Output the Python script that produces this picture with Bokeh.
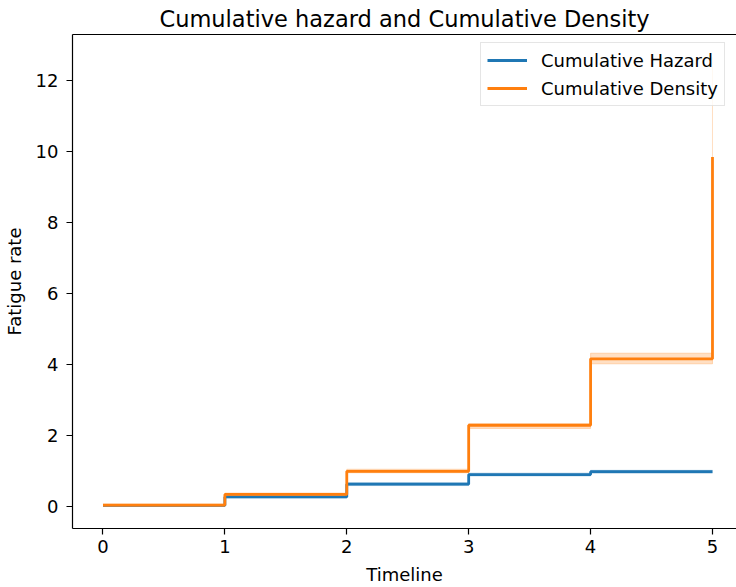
from bokeh.plotting import figure
from bokeh.models import Range1d, LinearAxis, Legend, LegendItem, FixedTicker
from bokeh.embed import file_html
from bokeh.resources import INLINE

# ---- data ----
timeline = [0, 1, 2, 3, 4, 5]
hazard = [0.03, 0.27, 0.63, 0.90, 0.98, 0.98]
hazard_lower = [0.01, 0.24, 0.59, 0.86, 0.94, 0.94]
hazard_upper = [0.05, 0.30, 0.67, 0.94, 1.02, 1.02]
density = [0.04, 0.34, 0.99, 2.29, 4.16, 9.85]
density_lower = [0.01, 0.31, 0.95, 2.20, 4.02, 8.00]
density_upper = [0.07, 0.38, 1.05, 2.33, 4.32, 12.66]
x_ticks = [0, 1, 2, 3, 4, 5]
y_ticks = [0, 2, 4, 6, 8, 10, 12]

BLUE = "#1f77b4"
ORANGE = "#ff7f0e"
FONT = "DejaVu Sans"

p = figure(width=736, height=587, output_backend="svg", toolbar_location=None,
           x_range=Range1d(-0.25, 5.197), y_range=Range1d(-0.62, 13.3),
           min_border_left=72, min_border_right=0, min_border_top=34, min_border_bottom=59,
           title="Cumulative hazard and Cumulative Density")

p.outline_line_color = None
p.grid.visible = False
p.background_fill_color = "white"
p.border_fill_color = "white"

# title
p.title.text_font = FONT
p.title.text_font_size = "22.5px"
p.title.text_font_style = "normal"
p.title.text_color = "#000000"
p.title.align = "center"
p.title.standoff = 6

xax = p.below[0]
yax = p.left[0]
for ax in (xax, yax):
    ax.axis_line_color = "#000000"
    ax.axis_line_width = 1.2
    ax.major_tick_line_color = "#000000"
    ax.major_tick_line_width = 1.2
    ax.major_tick_out = 6
    ax.major_tick_in = 0
    ax.minor_tick_line_color = None
    ax.major_label_text_font = FONT
    ax.major_label_text_font_size = "18px"
    ax.major_label_text_color = "#000000"
    ax.axis_label_text_font = FONT
    ax.axis_label_text_font_size = "18px"
    ax.axis_label_text_font_style = "normal"
    ax.axis_label_text_color = "#000000"

xax.major_label_standoff = 5
xax.axis_label_standoff = 8
yax.major_label_standoff = 8
yax.axis_label_standoff = 8

xax.ticker = FixedTicker(ticks=x_ticks)
yax.ticker = FixedTicker(ticks=y_ticks)
xax.axis_label = "Timeline"
yax.axis_label = "Fatigue rate"

# top spine via an empty axis
top_axis = LinearAxis(major_tick_line_color=None, minor_tick_line_color=None,
                      major_label_text_font_size="0px", major_label_standoff=0,
                      major_tick_out=0, major_tick_in=0,
                      axis_line_color="#000000", axis_line_width=1.2,
                      ticker=FixedTicker(ticks=[]))
p.add_layout(top_axis, "above")

# hazard band + line
p.varea_step(x=timeline, y1=hazard_lower, y2=hazard_upper, step_mode="after",
             fill_color=BLUE, fill_alpha=0.25)
p.step(timeline, hazard_lower, mode="after", line_color=BLUE, line_alpha=0.25, line_width=1)
p.step(timeline, hazard_upper, mode="after", line_color=BLUE, line_alpha=0.25, line_width=1)
r_h = p.step(timeline, hazard, mode="after", line_color=BLUE, line_width=2.8)

# density band + line
p.varea_step(x=timeline, y1=density_lower, y2=density_upper, step_mode="after",
             fill_color=ORANGE, fill_alpha=0.25)
p.step(timeline, density_lower, mode="after", line_color=ORANGE, line_alpha=0.25, line_width=1)
p.step(timeline, density_upper, mode="after", line_color=ORANGE, line_alpha=0.25, line_width=1)
r_d = p.step(timeline, density, mode="after", line_color=ORANGE, line_width=2.8)

legend = Legend(items=[LegendItem(label="Cumulative Hazard", renderers=[r_h]),
                       LegendItem(label="Cumulative Density", renderers=[r_d])],
                location=(408, 422))
legend.label_text_font = FONT
legend.label_text_font_size = "18px"
legend.label_text_color = "#000000"
legend.glyph_width = 40
legend.glyph_height = 22
legend.label_height = 22
legend.label_standoff = 14
legend.spacing = 6
legend.padding = 6
legend.margin = 0
legend.border_line_color = "#cccccc"
legend.border_line_width = 1
legend.background_fill_alpha = 0.8
p.add_layout(legend, "center")

open("out.html", "w").write(file_html(p, INLINE))
